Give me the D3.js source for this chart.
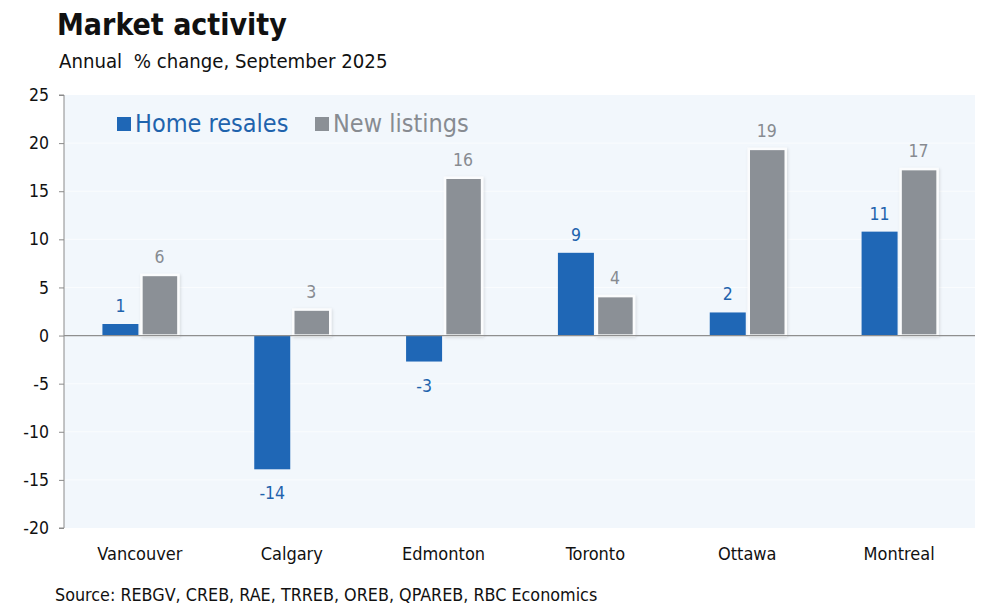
<!DOCTYPE html>
<html><head><meta charset="utf-8">
<script src="https://cdn.jsdelivr.net/npm/d3@7"></script>
<style>body{margin:0;background:#fff;} svg{display:block;} text{white-space:pre;}</style>
</head><body>
<svg id="c" width="1000" height="612"></svg>
<script>
const categories = ["Vancouver","Calgary","Edmonton","Toronto","Ottawa","Montreal"];
const homeResales = [1.2, -13.9, -2.7, 8.6, 2.4, 10.8];
const newListings = [6.3, 2.7, 16.4, 4.1, 19.4, 17.3];
const seriesNames = ["Home resales","New listings"];
const yTicks = [25,20,15,10,5,0,-5,-10,-15,-20];

const font = "'DejaVu Sans Condensed','DejaVu Sans',sans-serif";
const blue = "#1f67b6", gray = "#8b9096";
const svg = d3.select("#c");
const m = {l:64, r:25, t:95, b:84};
const W = 1000, H = 612;
const x = d3.scaleBand().domain(categories).range([m.l, W-m.r]).paddingInner(0).paddingOuter(0);
const y = d3.scaleLinear().domain([-20,25]).range([H-m.b, m.t]);

const defs = svg.append("defs");
const f = defs.append("filter").attr("id","sh").attr("x","-20%").attr("y","-20%").attr("width","140%").attr("height","140%");
f.append("feDropShadow").attr("dx",1).attr("dy",1).attr("stdDeviation",1.5).attr("flood-color","#000").attr("flood-opacity",0.12);

svg.append("rect").attr("x",m.l).attr("y",y(25)).attr("width",W-m.r-m.l).attr("height",y(-20)-y(25)).attr("fill","#f2f7fc");
svg.append("g").selectAll("line").data(yTicks.filter(d=>d!==0&&d!==25&&d!==-20)).join("line")
  .attr("x1",m.l).attr("x2",W-m.r).attr("y1",d=>y(d)).attr("y2",d=>y(d)).attr("stroke","#fafcfe").attr("stroke-width",1);

svg.append("text").attr("x",57).attr("y",35).attr("font-family",font).attr("font-weight","bold").attr("font-size",30).attr("fill","#111").text("Market activity");
svg.append("text").attr("x",59).attr("y",68).attr("font-family",font).attr("font-size",20.2).attr("fill","#111").text("Annual  % change, September 2025");

const ya = svg.append("g").attr("transform",`translate(${m.l},0)`)
  .call(d3.axisLeft(y).tickValues(yTicks).tickSize(5).tickPadding(10).tickFormat(d=>String(d)));
ya.select(".domain").attr("stroke","#8a8a8a").attr("d",`M-5,${y(25)}H0V${y(-20)}H-5`);
ya.selectAll(".tick line").attr("stroke","#8a8a8a");
ya.selectAll(".tick text").attr("font-family",font).attr("font-size",17.5).attr("fill","#111");

const bw = 36, gap = 1.5;
const groups = categories.map((c,i)=>({c, hr:homeResales[i], nl:newListings[i]}));
const cx = d=>x(d.c)+x.bandwidth()/2;

svg.append("g").selectAll("rect").data(groups).join("rect")
  .attr("x",d=>cx(d)+gap).attr("width",bw+1)
  .attr("y",d=>y(Math.max(0,d.nl))).attr("height",d=>Math.abs(y(d.nl)-y(0)))
  .attr("fill",gray).attr("stroke","#fbfcfd").attr("stroke-width",2.5).attr("filter","url(#sh)");
svg.append("g").selectAll("rect").data(groups).join("rect")
  .attr("x",d=>cx(d)-bw-gap).attr("width",bw)
  .attr("y",d=>y(Math.max(0,d.hr))).attr("height",d=>Math.abs(y(d.hr)-y(0)))
  .attr("fill",blue);

svg.append("line").attr("x1",m.l).attr("x2",W-m.r).attr("y1",y(0)).attr("y2",y(0)).attr("stroke","#8f8f8f").attr("stroke-width",1.3);

const lab = (key,col,off)=>svg.append("g").selectAll("text").data(groups).join("text")
  .attr("x",d=>cx(d)+off).attr("text-anchor","middle")
  .attr("y",d=>d[key]>=0 ? y(d[key])-12 : y(d[key])+30)
  .attr("font-family",font).attr("font-size",17.5).attr("fill",col)
  .text(d=>String(Math.round(d[key])));
lab("hr","#1f63ad",-bw/2-gap);
lab("nl","#878b91",bw/2+gap);

svg.append("g").selectAll("text").data(categories).join("text")
  .attr("x",d=>x(d)+x.bandwidth()/2).attr("y",560).attr("text-anchor","middle")
  .attr("font-family",font).attr("font-size",18).attr("fill","#111").text(d=>d);

const lg = svg.append("g");
lg.append("rect").attr("x",117).attr("y",117).attr("width",14).attr("height",14).attr("fill",blue);
lg.append("text").attr("x",135).attr("y",132).attr("font-family",font).attr("font-size",25).attr("fill","#1f63ad").text(seriesNames[0]);
lg.append("rect").attr("x",315).attr("y",117).attr("width",14).attr("height",14).attr("fill",gray);
lg.append("text").attr("x",333).attr("y",132).attr("font-family",font).attr("font-size",25).attr("fill","#878b91").text(seriesNames[1]);

svg.append("text").attr("x",55).attr("y",601).attr("font-family",font).attr("font-size",17.8).attr("fill","#111").text("Source: REBGV, CREB, RAE, TRREB, OREB, QPAREB, RBC Economics");
</script>
</body></html>
